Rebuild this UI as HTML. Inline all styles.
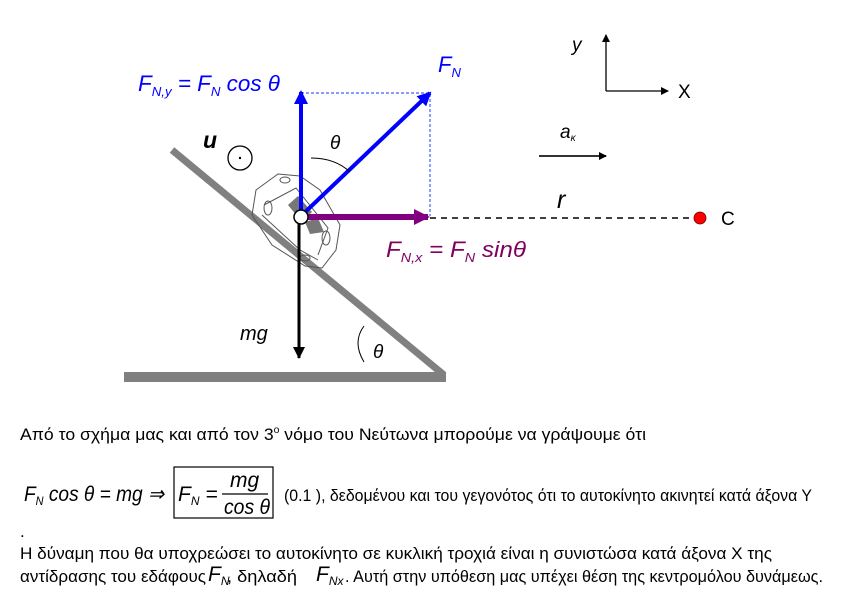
<!DOCTYPE html>
<html><head><meta charset="utf-8"><style>
html,body{margin:0;padding:0;background:#fff;}
svg{display:block;}
text{font-family:"Liberation Sans",sans-serif;}
</style></head><body>
<svg width="864" height="614" viewBox="0 0 864 614" xmlns="http://www.w3.org/2000/svg">
<defs>
<marker id="abl" markerWidth="14" markerHeight="14" refX="12" refY="7" orient="auto" markerUnits="userSpaceOnUse"><path d="M0,0 L14,7 L0,14 z" fill="#0000ff"/></marker>
<marker id="ap" markerWidth="16" markerHeight="16" refX="14" refY="8" orient="auto" markerUnits="userSpaceOnUse"><path d="M0,0 L16,8 L0,16 z" fill="#800080"/></marker>
<marker id="ak" markerWidth="12" markerHeight="12" refX="11" refY="6" orient="auto" markerUnits="userSpaceOnUse"><path d="M0,0 L12,6 L0,12 z" fill="#000"/></marker>
<marker id="as" markerWidth="8" markerHeight="8" refX="7" refY="4" orient="auto" markerUnits="userSpaceOnUse"><path d="M0,0 L8,4 L0,8 z" fill="#000"/></marker>
</defs>
<line x1="172" y1="150" x2="444" y2="375" stroke="#808080" stroke-width="7"/>
<line x1="124" y1="377" x2="446" y2="377" stroke="#808080" stroke-width="10"/>
<g fill="none" stroke="#555" stroke-width="1">
<path d="M256,190 L278,174 L300,176 L320,190 L340,225 L336,250 L322,268 L305,266 L272,245 L252,215 Z"/>
<path d="M264,205 L296,188 L328,228 L318,255"/>
<path d="M262,215 L300,250 L318,260"/>
<ellipse cx="268" cy="208" rx="4" ry="7"/>
<ellipse cx="326" cy="238" rx="4" ry="7"/>
<ellipse cx="305" cy="258" rx="5" ry="3"/>
<ellipse cx="285" cy="180" rx="5" ry="3"/>
</g>
<path d="M288,205 L298,196 L312,212 L302,222 Z" fill="#777"/>
<path d="M305,222 L318,218 L324,232 L310,234 Z" fill="#777"/>
<polyline points="301,93 430,93 430,216" fill="none" stroke="#4060ff" stroke-width="1.2" stroke-dasharray="3,2"/>
<line x1="430" y1="218" x2="696" y2="218" stroke="#000" stroke-width="1.5" stroke-dasharray="6,5"/>
<circle cx="700" cy="218" r="6" fill="#ff0000" stroke="#600" stroke-width="0.8"/>
<line x1="301" y1="216" x2="301" y2="92" stroke="#0000ff" stroke-width="4" marker-end="url(#abl)"/>
<line x1="301" y1="216" x2="430" y2="93" stroke="#0000ff" stroke-width="4" marker-end="url(#abl)"/>
<line x1="301" y1="217" x2="428" y2="217" stroke="#800080" stroke-width="6" marker-end="url(#ap)"/>
<line x1="299" y1="220" x2="299" y2="358" stroke="#000" stroke-width="3" marker-end="url(#ak)"/>
<circle cx="301" cy="217" r="7" fill="#fff" stroke="#000" stroke-width="1.5"/>
<path d="M311,158 Q335,158 350,172" fill="none" stroke="#000" stroke-width="1"/>
<path d="M364,326 Q352,342 364,362" fill="none" stroke="#000" stroke-width="1"/>
<circle cx="240" cy="158" r="12" fill="none" stroke="#000" stroke-width="1.3"/>
<circle cx="240" cy="158" r="1.2" fill="#000"/>
<line x1="606" y1="91" x2="606" y2="35" stroke="#000" stroke-width="1.3" marker-end="url(#as)"/>
<line x1="606" y1="91" x2="668" y2="91" stroke="#000" stroke-width="1.3" marker-end="url(#as)"/>
<line x1="539" y1="156" x2="606" y2="156" stroke="#333" stroke-width="2" marker-end="url(#as)"/>
<g font-style="italic">
<text x="138" y="91" font-size="22" fill="#0000ff" textLength="142" lengthAdjust="spacingAndGlyphs">F<tspan font-size="13" dy="5">N,y</tspan><tspan dy="-5"> = F</tspan><tspan font-size="13" dy="5">N</tspan><tspan dy="-5"> cos θ</tspan></text>
<text x="438" y="72" font-size="22" fill="#0000ff">F<tspan font-size="13" dy="5">N</tspan></text>
<text x="330" y="149" font-size="19" fill="#000">θ</text>
<text x="203" y="148" font-size="23" fill="#000" font-weight="bold">u</text>
<text x="386" y="257" font-size="22" fill="#800060" textLength="140" lengthAdjust="spacingAndGlyphs">F<tspan font-size="13" dy="5">N,x</tspan><tspan dy="-5"> = F</tspan><tspan font-size="13" dy="5">N</tspan><tspan dy="-5"> sinθ</tspan></text>
<text x="240" y="340" font-size="20" fill="#000">mg</text>
<text x="373" y="358" font-size="19" fill="#000">θ</text>
<text x="557" y="208" font-size="25" fill="#000">r</text>
<text x="560" y="138" font-size="19" fill="#000">a<tspan font-size="10" dy="3">κ</tspan></text>
<text x="572" y="51" font-size="19" fill="#000">y</text>
<text x="678" y="98" font-size="19" fill="#000" font-style="normal">X</text>
</g>
<text x="721" y="225" font-size="19" fill="#000">C</text>
<g font-size="17" fill="#000">
<text x="20" y="440" textLength="626" lengthAdjust="spacingAndGlyphs">Από το σχήμα μας  και από τον 3<tspan font-size="10" dy="-7">o</tspan><tspan dy="7"> νόμο του Νεύτωνα μπορούμε να γράψουμε ότι</tspan></text>
<text x="284" y="501" textLength="528" lengthAdjust="spacingAndGlyphs">(0.1 ), δεδομένου και του γεγονότος ότι το αυτοκίνητο ακινητεί κατά άξονα Υ</text>
<text x="20" y="537">.</text>
<text x="20" y="559" textLength="752" lengthAdjust="spacingAndGlyphs">Η δύναμη που θα υποχρεώσει το αυτοκίνητο σε κυκλική τροχιά είναι η συνιστώσα  κατά άξονα  Χ της</text>
<text x="20" y="582" textLength="186" lengthAdjust="spacingAndGlyphs">αντίδρασης του εδάφους</text>
<text x="227" y="582" textLength="70" lengthAdjust="spacingAndGlyphs">, δηλαδή</text>
<text x="345" y="582" textLength="478" lengthAdjust="spacingAndGlyphs">. Αυτή στην υπόθεση μας υπέχει  θέση της κεντρομόλου δυνάμεως.</text>
</g>
<g font-style="italic" fill="#000">
<text x="208" y="581" font-size="21">F<tspan font-size="12" dy="4">N</tspan></text>
<text x="316" y="581" font-size="21">F<tspan font-size="12" dy="4">Nx</tspan></text>
<text x="24" y="501" font-size="21" textLength="140" lengthAdjust="spacingAndGlyphs">F<tspan font-size="12" dy="4">N</tspan><tspan dy="-4"> cos θ = mg ⇒</tspan></text>
<text x="178" y="501" font-size="21">F<tspan font-size="12" dy="4">N</tspan><tspan dy="-4"> =</tspan></text>
<text x="230" y="487" font-size="21">mg</text>
<text x="224" y="514" font-size="21" textLength="46" lengthAdjust="spacingAndGlyphs">cos θ</text>
</g>
<line x1="222" y1="494" x2="268" y2="494" stroke="#000" stroke-width="1.2"/>
<rect x="174" y="467" width="99" height="51" fill="none" stroke="#000" stroke-width="1.2"/>
</svg>
</body></html>
